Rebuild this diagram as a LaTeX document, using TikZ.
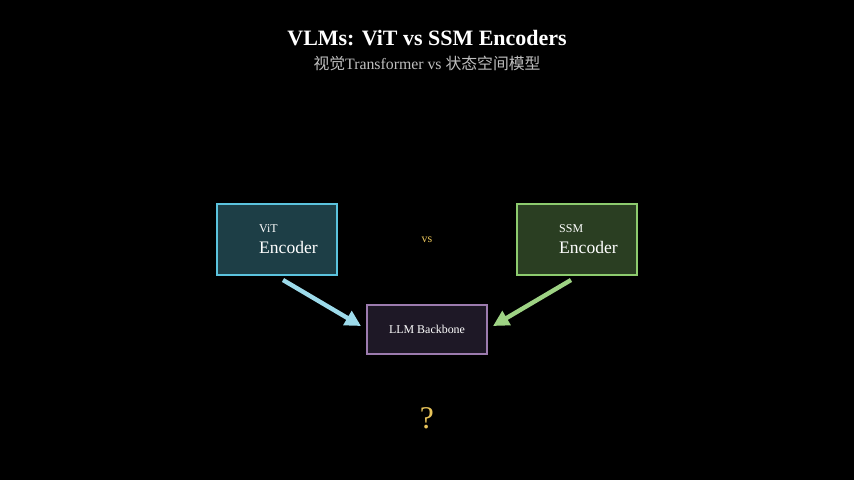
\documentclass[tikz,border=0pt]{standalone}
\usepackage{fontspec}
\setmainfont{Liberation Serif}
\newfontfamily\cjk{Noto Sans CJK SC}
\usetikzlibrary{arrows.meta}
\definecolor{vitfill}{HTML}{1D3E46}
\definecolor{vitline}{HTML}{5BC3DE}
\definecolor{ssmfill}{HTML}{2A3E22}
\definecolor{ssmline}{HTML}{8DCB6E}
\definecolor{llmfill}{HTML}{1E1826}
\definecolor{llmline}{HTML}{9C7BAE}
\definecolor{gold}{HTML}{E8C45A}
\newcommand{\enc}[1]{\fontsize{6.8}{7.4}\selectfont #1}

\begin{document}
\begin{tikzpicture}[x=0.02cm, y=-0.02cm,
    box/.style={draw, line width=1.2pt, minimum width=2.4cm, minimum height=1.42cm, text=white},
    flow/.style={-{Triangle[length=9pt,width=9pt]}, line width=2.5pt}]
      \fill[black] (0,0) rectangle (854,480);
      \node[text=white, font=\bfseries\fontsize{12.5}{14}\selectfont] (title) at (427,38) {VLMs: ViT vs SSM Encoders};
      \node[text=white!75!black, font=\fontsize{9}{11}\selectfont] (sub) at (427,63) {{\cjk 视觉}Transformer vs {\cjk 状态空间模型}};
      \node[box, fill=vitfill, draw=vitline] (V) at (277,239.5) {};
      \node[text=white, align=left, anchor=west] (Vt) at (253,239.5) {\enc{ViT\\Encoder}};
      \node[box, fill=ssmfill, draw=ssmline] (S) at (577,239.5) {};
      \node[text=white, align=left, anchor=west] (St) at (553,239.5) {\enc{SSM\\Encoder}};
      \node[text=gold] (vs) at (427,240) {\enc{vs}};
      \node[box, fill=llmfill, draw=llmline, minimum height=0.98cm] (L) at (427,329.5) {\enc{LLM Backbone}};
      \node[text=gold, font=\fontsize{18}{20}\selectfont] (q) at (427,418) {?};
      \coordinate (v0) at (283,280);
      \coordinate (v1) at (361,326);
      \coordinate (s0) at (571,280);
      \coordinate (s1) at (493,326);
      \draw[flow, draw=vitline!60!white] (v0) -- (v1);
      \draw[flow, draw=ssmline!85!white] (s0) -- (s1);
    \end{tikzpicture}
\end{document}
